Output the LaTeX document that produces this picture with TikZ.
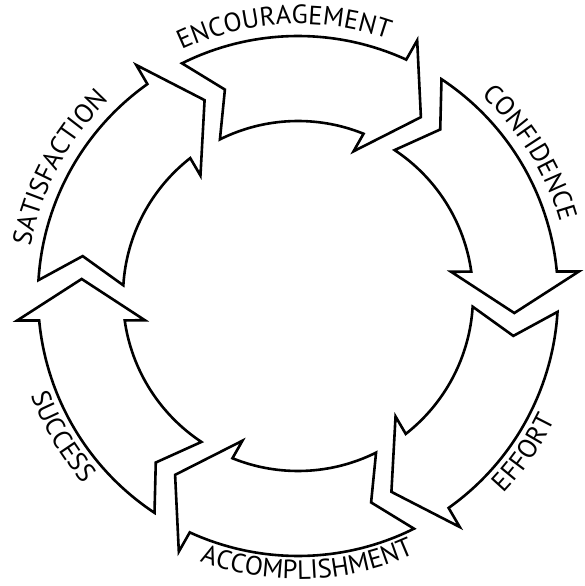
\documentclass[tikz,border=0pt]{standalone}
\usepackage{fontspec}
\setmainfont{PT Sans}
\usetikzlibrary{decorations.text}

\newcommand{\labelfont}{\fontsize{26.5}{26.5}\selectfont}

\tikzset{
  cyclearrow/.style={line width=2.6pt, draw=black, fill=white, line join=miter},
  curvedlabel/.style={decorate, decoration={text along path, text={|\labelfont|#1}, text align=center}}
}

\begin{document}
\begin{tikzpicture}
  \useasboundingbox (-298pt,-290pt) rectangle (286pt,296pt);

  % six curved arrows, clockwise, one every 60 degrees (\t = tail angle)
  \foreach \t in {116.5,56.5,-3.5,-63.5,-123.5,176.5} {
    \draw[cyclearrow] (\t:260pt) arc[start angle=\t, end angle=\t-51.1, radius=260pt]
      -- ({\t-51.5}:282pt) -- ({\t-61}:217pt) -- ({\t-47.5}:155pt) -- ({\t-48.5}:175pt)
      arc[start angle=\t-48.5, end angle=\t, radius=175pt]
      -- ({\t-7}:219pt) -- cycle;
  }

  % upper labels - clockwise, letters facing out
  \path[curvedlabel=ENCOURAGEMENT] (138:272pt) arc[start angle=138, end angle=48, radius=272pt];
  \path[curvedlabel=CONFIDENCE] (76.6:272pt) arc[start angle=76.6, end angle=-13.4, radius=272pt];
  \path[curvedlabel=SATISFACTION] (196.7:272pt) arc[start angle=196.7, end angle=106.7, radius=272pt];

  % lower labels - counterclockwise, letters facing in
  \path[curvedlabel=EFFORT] (-79.7:285pt) arc[start angle=-79.7, end angle=10.3, radius=285pt];
  \path[curvedlabel=ACCOMPLISHMENT] (-133:283pt) arc[start angle=-133, end angle=-43, radius=283pt];
  \path[curvedlabel=SUCCESS] (165.8:285pt) arc[start angle=165.8, end angle=255.8, radius=285pt];
\end{tikzpicture}
\end{document}
